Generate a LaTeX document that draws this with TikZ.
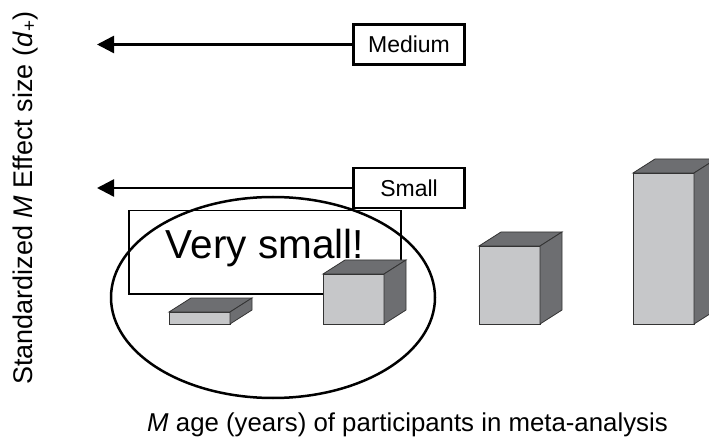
\documentclass[tikz,border=0pt]{standalone}
\usepackage{fontspec}
\setmainfont{Liberation Sans}
\usepackage{tikz}
\usetikzlibrary{arrows.meta}
\definecolor{facegray}{HTML}{C6C7C9}
\definecolor{sidegray}{HTML}{6D6E71}
\tikzset{
  sizebox/.style={draw,line width=2.5pt,minimum width=111pt,minimum height=40pt,inner sep=0pt,font=\fontsize{23}{27}\selectfont},
  effarrow/.style={line width=2.5pt,-{Triangle[length=17pt,width=17pt]}},
  barfront/.style={draw=black!80,line width=0.8pt,fill=facegray},
  barside/.style={draw=black!80,line width=0.8pt,fill=sidegray},
  axislabel/.style={font=\fontsize{25.8}{31}\selectfont}
}
\begin{document}
\begin{tikzpicture}[x=1pt,y=-1pt]%effect size by age
\useasboundingbox (0,0) rectangle (709,438);
\clip (0,0) rectangle (709,438);
\node[axislabel,font=\fontsize{27}{32}\selectfont,rotate=90,anchor=base] (ylab) at (32,198) {Standardized \textit{M} Effect size (\textit{d}\textsubscript{+})};
\node[axislabel,anchor=base] (xlab) at (407.5,431) {\textit{M} age (years) of participants in meta-analysis};
\node[sizebox] (medium) at (409,44.5) {Medium};
\node[sizebox] (small) at (409,188) {Small};
\coordinate (mediumtip) at (97,44.5);
\coordinate (smalltip) at (97,188);
\draw[effarrow] (medium.west) -- (mediumtip);
\draw[effarrow] (small.west) -- (smalltip);
\node[draw,line width=1.5pt,anchor=north,minimum width=272pt,text height=28pt,text depth=15pt,inner ysep=20pt,font=\fontsize{40.5}{48}\selectfont] (verysmall) at (265,210) {Very small!};
\foreach \x/\t in {169/312,323/274,479/246,633/173} {
  \draw[barfront] (\x,324) rectangle (\x+61,\t);
  \draw[barside] (\x,\t) -- ++(22,-14) -- ++(61,0) -- ++(-22,14) -- cycle;
  \draw[barside] (\x+61,324) -- ++(22,-14) -- (\x+83,\t-14) -- (\x+61,\t) -- cycle;
}
\draw[line width=2.5pt] (273,297.5) ellipse [x radius=162, y radius=100.5];
\end{tikzpicture}
\end{document}
